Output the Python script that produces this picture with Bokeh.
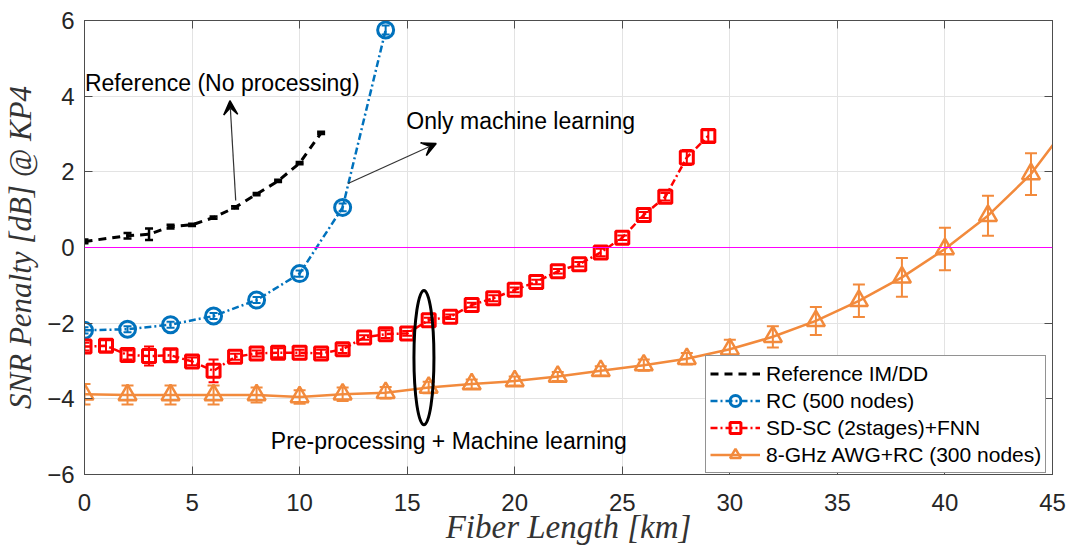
from bokeh.plotting import figure
from bokeh.models import (Range1d, FixedTicker, LinearAxis, Span, Whisker, TeeHead,
                          ColumnDataSource, Legend, LegendItem, Label, Arrow, VeeHead)
from bokeh.embed import file_html
from bokeh.resources import INLINE

# ---------------- data ----------------
x_ticks = [0, 5, 10, 15, 20, 25, 30, 35, 40, 45]
y_ticks = [-6, -4, -2, 0, 2, 4, 6]
x_title = "Fiber Length [km]"
y_title = "SNR Penalty [dB] @ KP4"

ref_x = [0, 2, 3, 4, 5, 6, 7, 8, 9, 10, 11]
ref_y = [0.16, 0.31, 0.35, 0.55, 0.60, 0.79, 1.06, 1.41, 1.76, 2.23, 3.03]
ref_e = [0.05, 0.07, 0.15, 0.05, 0.03, 0.03, 0.03, 0.03, 0.03, 0.03, 0.03]

rc_x = [0, 2, 4, 6, 8, 10, 12, 14]
rc_y = [-2.19, -2.16, -2.04, -1.81, -1.39, -0.69, 1.06, 5.75]
rc_e = [0.08, 0.08, 0.08, 0.08, 0.08, 0.08, 0.10, 0.12]

sd_x = list(range(0, 30))
sd_y = [-2.62, -2.60, -2.84, -2.87, -2.85, -3.01, -3.26, -2.89, -2.80, -2.78,
        -2.78, -2.80, -2.69, -2.38, -2.29, -2.27, -1.92, -1.83, -1.52, -1.34,
        -1.12, -0.91, -0.63, -0.44, -0.13, 0.26, 0.86, 1.34, 2.38, 2.95]
sd_e = [0.10, 0.15, 0.12, 0.25, 0.15, 0.10, 0.30, 0.08, 0.08, 0.12,
        0.08, 0.10, 0.10, 0.06, 0.10, 0.06, 0.06, 0.06, 0.06, 0.08,
        0.06, 0.06, 0.06, 0.06, 0.10, 0.06, 0.08, 0.10, 0.20, 0.15]

awg_x = [0, 2, 4, 6, 8, 10, 12, 14, 16, 18, 20, 22, 24, 26, 28, 30, 32, 34, 36, 38, 40, 42, 44, 46]
awg_y = [-3.88, -3.90, -3.90, -3.90, -3.90, -3.95, -3.88, -3.84, -3.70, -3.61,
         -3.53, -3.41, -3.26, -3.11, -2.94, -2.69, -2.36, -1.94, -1.41, -0.79,
         -0.04, 0.84, 1.94, 3.45]
awg_e = [0.27, 0.25, 0.25, 0.25, 0.20, 0.18, 0.18, 0.15, 0.15, 0.12,
         0.12, 0.12, 0.12, 0.15, 0.15, 0.25, 0.28, 0.37, 0.43, 0.51,
         0.56, 0.53, 0.55, 0.55]

labels = ["Reference IM/DD", "RC (500 nodes)", "SD-SC (2stages)+FNN", "8-GHz AWG+RC (300 nodes)"]

# ---------------- styles ----------------
C_BLACK = "#000000"
C_BLUE = "#0072BD"
C_RED = "#FF0000"
C_ORANGE = "#F28A3C"
AX = "#4d4d4d"
TXT = "#262626"
SANS = "Liberation Sans"
SERIF = "Liberation Serif"

p = figure(width=1072, height=549, output_backend="svg", toolbar_location=None,
           x_range=Range1d(0, 45), y_range=Range1d(-6, 6),
           min_border_left=83, min_border_right=20, min_border_top=20, min_border_bottom=75)
p.background_fill_color = "white"
p.border_fill_color = "white"
p.outline_line_color = AX
p.outline_line_width = 1

# axes
for ax, ticks in ((p.xaxis[0], x_ticks), (p.yaxis[0], y_ticks)):
    ax.ticker = FixedTicker(ticks=ticks)
    ax.major_tick_in = 8
    ax.major_tick_out = 0
    ax.minor_tick_line_color = None
    ax.axis_line_color = AX
    ax.major_tick_line_color = AX
    ax.major_label_text_font = SANS
    ax.major_label_text_font_size = "24px"
    ax.major_label_text_color = TXT
    ax.axis_label_text_font = SERIF
    ax.axis_label_text_font_style = "italic"
    ax.axis_label_text_color = "#333333"

p.xaxis.axis_label = x_title
p.yaxis.axis_label = y_title
p.xaxis.axis_label_text_font_size = "33px"
p.yaxis.axis_label_text_font_size = "31px"
p.xaxis.major_label_standoff = 19
p.xaxis.axis_label_standoff = -5
p.yaxis.major_label_standoff = 10
p.yaxis.axis_label_standoff = 6

for loc, ticks in (("above", x_ticks), ("right", y_ticks)):
    a = LinearAxis(ticker=FixedTicker(ticks=ticks), major_tick_in=8, major_tick_out=0,
                   minor_tick_line_color=None, axis_line_color=AX, major_tick_line_color=AX,
                   major_label_overrides={t: "" for t in ticks},
                   major_label_text_color=None, major_label_standoff=0,
                   axis_label_standoff=0)
    p.add_layout(a, loc)

p.xgrid.ticker = FixedTicker(ticks=x_ticks)
p.ygrid.ticker = FixedTicker(ticks=y_ticks)
p.grid.grid_line_color = "#e3e3e3"
p.grid.grid_line_width = 1

# zero line
p.add_layout(Span(location=0, dimension="width", line_color="#FF00FF", line_width=1.2))


def errorbars(xs, ys, es, color, cap, lw=2):
    pts = [(x, y, e) for x, y, e in zip(xs, ys, es) if x <= 45]
    src = ColumnDataSource(dict(x=[a[0] for a in pts],
                                lo=[a[1] - a[2] for a in pts],
                                hi=[a[1] + a[2] for a in pts]))
    w = Whisker(source=src, base="x", lower="lo", upper="hi", dimension="height",
                line_color=color, line_width=lw,
                upper_head=TeeHead(size=cap, line_color=color, line_width=lw),
                lower_head=TeeHead(size=cap, line_color=color, line_width=lw))
    p.add_layout(w)


# Reference IM/DD
r_ref = p.line(ref_x, ref_y, line_color=C_BLACK, line_width=3, line_dash="8 6")
errorbars(ref_x, ref_y, ref_e, C_BLACK, 8, 2.5)

# RC 500 nodes
r_rc = p.line(rc_x, rc_y, line_color=C_BLUE, line_width=2.5, line_dash="7 3 2 3")
errorbars(rc_x, rc_y, rc_e, C_BLUE, 8, 2)
m_rc = p.scatter(rc_x, rc_y, marker="circle", size=16, line_color=C_BLUE, line_width=3,
                 fill_alpha=0)

# SD-SC + FNN
r_sd = p.line(sd_x, sd_y, line_color=C_RED, line_width=2.5, line_dash="7 3 2 3")
errorbars(sd_x, sd_y, sd_e, C_RED, 10, 2)
m_sd = p.scatter(sd_x, sd_y, marker="square", size=13, line_color=C_RED, line_width=3,
                 fill_alpha=0)

# 8-GHz AWG + RC
r_awg = p.line(awg_x, awg_y, line_color=C_ORANGE, line_width=2.5)
errorbars(awg_x, awg_y, awg_e, C_ORANGE, 12, 2)
m_awg = p.scatter(awg_x, awg_y, marker="triangle", size=18, line_color=C_ORANGE,
                  line_width=2.5, fill_alpha=0)

# annotations
p.add_layout(Label(x=0.02, y=4.35, text="Reference (No processing)", text_font=SANS,
                   text_font_size="23px", text_color="black", text_baseline="middle"))
p.add_layout(Label(x=14.96, y=3.35, text="Only machine learning", text_font=SANS,
                   text_font_size="23px", text_color="black", text_baseline="middle"))
p.add_layout(Label(x=8.66, y=-5.11, text="Pre-processing + Machine learning", text_font=SANS,
                   text_font_size="23px", text_color="black", text_baseline="middle"))
p.add_layout(Arrow(end=VeeHead(size=14, line_color="black", fill_color="black", line_width=1.5),
                   x_start=7.03, y_start=1.24, x_end=6.76, y_end=3.88,
                   line_color="#333333", line_width=1.2))
p.add_layout(Arrow(end=VeeHead(size=14, line_color="black", fill_color="black", line_width=1.5),
                   x_start=12.25, y_start=1.69, x_end=16.35, y_end=2.75,
                   line_color="#333333", line_width=1.2))
p.ellipse(x=[15.78], y=[-2.91], width=0.93, height=3.56, fill_alpha=0,
          line_color="black", line_width=3)

legend = Legend(items=[
    LegendItem(label=labels[0], renderers=[r_ref]),
    LegendItem(label=labels[1], renderers=[r_rc, m_rc]),
    LegendItem(label=labels[2], renderers=[r_sd, m_sd]),
    LegendItem(label=labels[3], renderers=[r_awg, m_awg]),
], location=(621, 1))
legend.margin = 0
legend.padding = 4
legend.spacing = 0
legend.glyph_width = 50
legend.glyph_height = 27
legend.label_height = 27
legend.label_standoff = 6
legend.label_text_font = SANS
legend.label_text_font_size = "21px"
legend.label_text_color = "black"
legend.border_line_color = TXT
legend.border_line_width = 1
legend.background_fill_color = "white"
legend.background_fill_alpha = 1
p.add_layout(legend)

open("out.html", "w").write(file_html(p, INLINE))
